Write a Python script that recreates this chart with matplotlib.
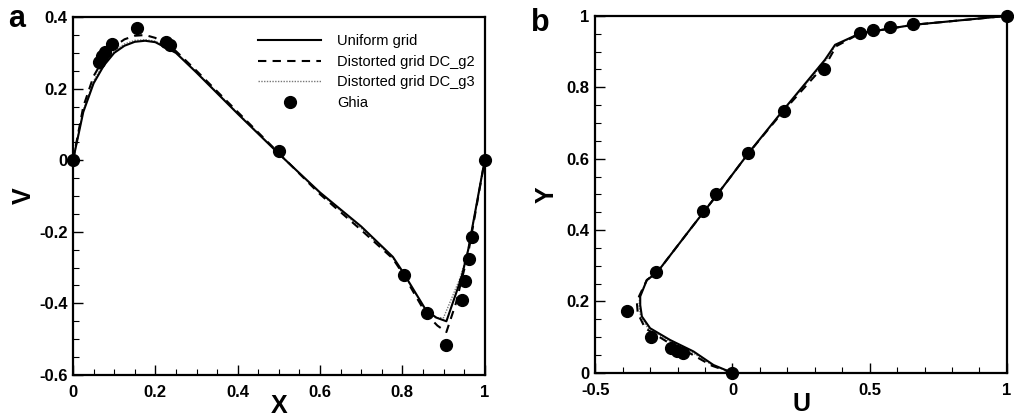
import matplotlib
matplotlib.use('Agg')
import matplotlib.pyplot as plt
from matplotlib.lines import Line2D
from matplotlib.ticker import MultipleLocator, FuncFormatter

plt.rcParams['font.family'] = ['Liberation Sans', 'DejaVu Sans']

# V velocity along the horizontal centreline
x_uniform = [0, 0.025, 0.05, 0.075, 0.1, 0.125, 0.15, 0.175, 0.2, 0.25, 0.3, 0.4, 0.5,
             0.6, 0.7, 0.777, 0.8, 0.858, 0.883, 0.907, 0.943, 0.96, 1.0]
v_uniform = [0, 0.135, 0.215, 0.265, 0.300, 0.320, 0.331, 0.334, 0.330, 0.300, 0.245, 0.130, 0.018,
             -0.09, -0.185, -0.27, -0.31, -0.42, -0.44, -0.45, -0.33, -0.25, 0]

x_g2 = [0, 0.025, 0.05, 0.075, 0.1, 0.125, 0.15, 0.175, 0.2, 0.25, 0.3, 0.4, 0.5,
        0.6, 0.7, 0.777, 0.8, 0.858, 0.885, 0.907, 0.93, 0.96, 1.0]
v_g2 = [0, 0.15, 0.235, 0.285, 0.318, 0.338, 0.348, 0.350, 0.342, 0.305, 0.25, 0.135, 0.02,
        -0.095, -0.195, -0.275, -0.315, -0.43, -0.462, -0.48, -0.40, -0.26, 0]

x_g3 = [0, 0.025, 0.05, 0.075, 0.1, 0.125, 0.15, 0.175, 0.2, 0.25, 0.3, 0.4, 0.5,
        0.6, 0.7, 0.777, 0.8, 0.858, 0.88, 0.9, 0.94, 0.958, 1.0]
v_g3 = [0, 0.14, 0.222, 0.272, 0.305, 0.325, 0.335, 0.337, 0.333, 0.302, 0.247, 0.132, 0.019,
        -0.092, -0.19, -0.273, -0.312, -0.422, -0.44, -0.44, -0.33, -0.26, 0]

x_ghia = [1.0, 0.9688, 0.9609, 0.9531, 0.9453, 0.9063, 0.8594, 0.8047, 0.5, 0.2344,
          0.2266, 0.1563, 0.0938, 0.0781, 0.0703, 0.0625, 0.0]
v_ghia = [0.0, -0.21388, -0.27669, -0.33714, -0.39188, -0.5155, -0.42665, -0.31966, 0.02526,
          0.32235, 0.33075, 0.37095, 0.32627, 0.30353, 0.29012, 0.27485, 0.0]

# U velocity along the vertical centreline
y_uniform = [0, 0.022, 0.06, 0.092, 0.125, 0.158, 0.19, 0.214, 0.26, 0.281, 0.4, 0.5,
             0.615, 0.737, 0.877, 0.919, 0.951, 0.975, 1.0]
u_uniform = [0, -0.069, -0.142, -0.227, -0.30, -0.33, -0.336, -0.336, -0.312, -0.275, -0.156, -0.055,
             0.058, 0.186, 0.337, 0.374, 0.465, 0.659, 1.0]

y_g2 = [0, 0.02, 0.055, 0.088, 0.125, 0.167, 0.195, 0.215, 0.26, 0.281, 0.4, 0.5,
        0.615, 0.737, 0.87, 0.915, 0.951, 0.975, 1.0]
u_g2 = [0, -0.075, -0.155, -0.24, -0.318, -0.345, -0.348, -0.34, -0.312, -0.275, -0.156, -0.055,
        0.058, 0.19, 0.345, 0.378, 0.465, 0.659, 1.0]

y_g3 = [0, 0.021, 0.058, 0.09, 0.125, 0.16, 0.19, 0.214, 0.26, 0.281, 0.4, 0.5,
        0.615, 0.737, 0.875, 0.917, 0.951, 0.975, 1.0]
u_g3 = [0, -0.072, -0.148, -0.232, -0.308, -0.335, -0.34, -0.338, -0.312, -0.275, -0.156, -0.055,
        0.058, 0.188, 0.34, 0.376, 0.465, 0.659, 1.0]

y_ghia = [1.0, 0.9766, 0.9688, 0.9609, 0.9531, 0.8516, 0.7344, 0.6172, 0.5, 0.4531,
          0.2813, 0.1719, 0.1016, 0.0703, 0.0625, 0.0547, 0.0]
u_ghia = [1.0, 0.65928, 0.57492, 0.51117, 0.46604, 0.33304, 0.18719, 0.05702, -0.0608,
          -0.10648, -0.27805, -0.38289, -0.2973, -0.2222, -0.20196, -0.18109, 0.0]

labels = ['Uniform grid', 'Distorted grid DC_g2', 'Distorted grid DC_g3', 'Ghia']

solid = dict(color='black', linestyle='-', linewidth=1.5)
dashed = dict(color='black', linestyle=(0, (4, 3)), linewidth=1.5)
dotted = dict(color='#777777', linestyle=(0, (1, 1)), linewidth=1.0)
dots = dict(color='black', linestyle='none', marker='o', markersize=8.5)


def style_axes(ax, xmajor, xminor, ymajor, yminor):
    for sp in ax.spines.values():
        sp.set_linewidth(1.6)
    ax.xaxis.set_major_locator(MultipleLocator(xmajor))
    ax.xaxis.set_minor_locator(MultipleLocator(xminor))
    ax.yaxis.set_major_locator(MultipleLocator(ymajor))
    ax.yaxis.set_minor_locator(MultipleLocator(yminor))
    fmt = FuncFormatter(lambda v, p: '%g' % round(v, 3))
    ax.xaxis.set_major_formatter(fmt)
    ax.yaxis.set_major_formatter(fmt)
    ax.tick_params(which='major', direction='in', length=7, width=1.0)
    ax.tick_params(which='minor', direction='in', length=4, width=0.8)
    ax.tick_params(axis='x', which='major', pad=7)
    ax.tick_params(axis='y', which='major', pad=4)
    for lab in ax.get_xticklabels() + ax.get_yticklabels():
        lab.set_fontsize(12)
        lab.set_fontweight('bold')


fig = plt.figure(figsize=(10.14, 4.18), dpi=100)

# panel a
ax1 = fig.add_axes([0.072, 0.103, 0.406, 0.856])
ax1.plot(x_g3, v_g3, **dotted)
ax1.plot(x_g2, v_g2, **dashed)
ax1.plot(x_uniform, v_uniform, **solid)
ax1.plot(x_ghia, v_ghia, clip_on=False, zorder=5, **dots)
ax1.set_xlim(0, 1)
ax1.set_ylim(-0.6, 0.4)
style_axes(ax1, 0.2, 0.05, 0.2, 0.05)
ax1.set_xlabel('X', fontsize=18, fontweight='bold', labelpad=-4)
ax1.set_ylabel('V', fontsize=18, fontweight='bold', labelpad=2)

handles = [Line2D([], [], **solid), Line2D([], [], **dashed),
           Line2D([], [], **dotted), Line2D([], [], **dots)]
ax1.legend(handles, labels, loc='upper left', bbox_to_anchor=(0.45, 0.952), frameon=False,
           fontsize=10.5, handlelength=4.3, handletextpad=1.1, labelspacing=0.45,
           borderpad=0, borderaxespad=0)
fig.text(0.008, 0.935, 'a', fontsize=22, fontweight='bold')

# panel b
ax2 = fig.add_axes([0.587, 0.108, 0.406, 0.854])
ax2.plot(u_g3, y_g3, **dotted)
ax2.plot(u_g2, y_g2, **dashed)
ax2.plot(u_uniform, y_uniform, **solid)
ax2.plot(u_ghia, y_ghia, clip_on=False, zorder=5, **dots)
ax2.set_xlim(-0.5, 1)
ax2.set_ylim(0, 1)
style_axes(ax2, 0.5, 0.1, 0.2, 0.05)
ax2.set_xlabel('U', fontsize=18, fontweight='bold', labelpad=-4)
ax2.set_ylabel('Y', fontsize=18, fontweight='bold', labelpad=6)
fig.text(0.524, 0.925, 'b', fontsize=22, fontweight='bold')

fig.savefig('out.png', dpi=100)
plt.close()
